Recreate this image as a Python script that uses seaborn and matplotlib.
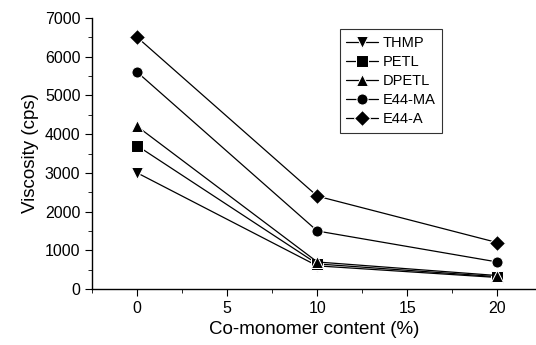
import pandas as pd
import seaborn as sns
import matplotlib.pyplot as plt
from matplotlib.ticker import MultipleLocator

# Data
content = [0, 10, 20]
thmp = [3000, 600, 300]
petl = [3700, 650, 320]
dpetl = [4200, 700, 350]
e44_ma = [5600, 1500, 700]
e44_a = [6500, 2400, 1200]

series = ['THMP', 'PETL', 'DPETL', 'E44-MA', 'E44-A']
values = [thmp, petl, dpetl, e44_ma, e44_a]
markers = ['v', 's', '^', 'o', 'D']

rows = []
for name, vals in zip(series, values):
    for c, v in zip(content, vals):
        rows.append({'content': c, 'viscosity': v, 'sample': name})
df = pd.DataFrame(rows)

sns.set_style("ticks")
plt.rcParams['font.family'] = ['Liberation Sans', 'DejaVu Sans']
plt.rcParams['text.color'] = 'black'

fig = plt.figure(figsize=(5.36, 3.45), dpi=100)
ax = fig.add_axes([0.172, 0.162, 0.83, 0.786])

sns.lineplot(data=df, x='content', y='viscosity', hue='sample', style='sample',
             palette=['black'] * 5, markers=dict(zip(series, markers)),
             dashes=False, markersize=8, linewidth=0.9, ax=ax,
             hue_order=series, style_order=series)

ax.set_xlim(-2.5, 22.2)
ax.set_ylim(0, 7000)
ax.xaxis.set_major_locator(MultipleLocator(5))
ax.xaxis.set_minor_locator(MultipleLocator(2.5))
ax.yaxis.set_major_locator(MultipleLocator(1000))
ax.yaxis.set_minor_locator(MultipleLocator(500))
ax.tick_params(which='both', direction='out', colors='black', labelsize=11.5)
ax.tick_params(which='major', length=5)
ax.tick_params(which='minor', length=3)
sns.despine(ax=ax)
for s in ['left', 'bottom']:
    ax.spines[s].set_color('black')
    ax.spines[s].set_linewidth(1.0)

ax.set_xlabel('Co-monomer content (%)', fontsize=13.5, color='black')
ax.set_ylabel('Viscosity (cps)', fontsize=13.5, color='black')

leg = ax.legend(loc='upper left', bbox_to_anchor=(0.54, 0.985), frameon=True,
                fancybox=False, edgecolor='black', fontsize=10.5, handlelength=2.2,
                labelspacing=0.35, borderpad=0.45, handletextpad=0.3, title=None)
leg.get_frame().set_linewidth(0.8)
for t in leg.get_texts():
    t.set_color('black')

plt.savefig('out.png', dpi=100)
